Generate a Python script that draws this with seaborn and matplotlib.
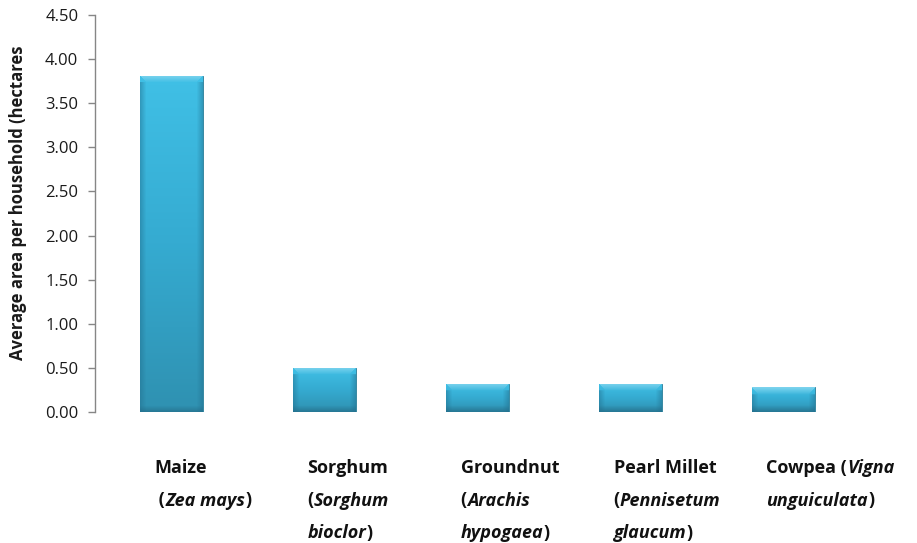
import numpy as np
import pandas as pd
import matplotlib
matplotlib.use('Agg')
import matplotlib.pyplot as plt
import seaborn as sns
from matplotlib.colors import LinearSegmentedColormap

# 数据
crops = ['Maize', 'Sorghum', 'Groundnut', 'Pearl Millet', 'Cowpea']
avg_area = [3.81, 0.50, 0.32, 0.32, 0.28]
y_ticks = [0.0, 0.5, 1.0, 1.5, 2.0, 2.5, 3.0, 3.5, 4.0, 4.5]
y_label = 'Average area per household (hectares'

# 分类标签：每行由 (文字, 是否斜体) 片段组成
label_lines = [
    [[('Maize', False)], [(' (', False), ('Zea mays', True), (')', False)]],
    [[('Sorghum', False)], [('(', False), ('Sorghum', True)], [('bioclor', True), (')', False)]],
    [[('Groundnut', False)], [('(', False), ('Arachis', True)], [('hypogaea', True), (')', False)]],
    [[('Pearl Millet', False)], [('(', False), ('Pennisetum', True)], [('glaucum', True), (')', False)]],
    [[('Cowpea (', False), ('Vigna', True)], [('unguiculata', True), (')', False)]],
]

sns.set_theme(style='white')
plt.rcParams['font.family'] = ['Open Sans', 'DejaVu Sans']

df = pd.DataFrame({'crop': crops, 'area': avg_area})

fig = plt.figure(figsize=(9.17, 5.43), dpi=100)
ax = fig.add_axes([95 / 917, 1 - 412 / 543, 765 / 917, 397 / 543])

sns.barplot(data=df, x='crop', y='area', color='#33b1d8', width=0.41,
            saturation=1, ax=ax, zorder=2)

# 渐变效果（模拟Excel的斜面样式）
body = LinearSegmentedColormap.from_list('body', ['#40c0e6', '#35abd1', '#2f91b1'])
px_per_unit = 397 / 4.5
for patch in ax.patches:
    x0, w = patch.get_x(), patch.get_width()
    h = patch.get_height()
    hpx = max(int(h * px_per_unit), 4)
    wpx = 64
    rows = np.linspace(0, 1, hpx)[:, None]
    img = body(rows * np.ones((1, wpx)))[:, :, :3]
    # 顶部高光
    top = min(7, hpx // 3)
    for r in range(top):
        f = 1 - r / max(top, 1)
        img[r, r:wpx - r, :] = img[r, r:wpx - r, :] * (1 - 0.5 * f) + np.array([0.72, 0.9, 0.96]) * 0.5 * f
    # 底部暗边
    bot = min(6, hpx // 4)
    for r in range(bot):
        f = 1 - r / max(bot, 1)
        img[hpx - 1 - r, :, :] = img[hpx - 1 - r, :, :] * (1 - 0.45 * f) + np.array([0.12, 0.36, 0.46]) * 0.45 * f
    # 左右暗边
    for c in range(6):
        f = 1 - c / 6
        for cc in (c, wpx - 1 - c):
            img[top:, cc, :] = img[top:, cc, :] * (1 - 0.45 * f) + np.array([0.13, 0.43, 0.55]) * 0.45 * f
    im = ax.imshow(img, extent=[x0, x0 + w, 0, h], aspect='auto', zorder=3,
                   interpolation='bilinear')
    im.set_clip_path(patch)
    patch.set_edgecolor('#2a7b96')
    patch.set_linewidth(0.6)
    patch.set_zorder(2)

ax.set_xlim(-0.5, 4.5)
ax.set_ylim(0, 4.5)
ax.set_yticks(y_ticks)
ax.set_yticklabels([f'{v:.2f}' for v in y_ticks], fontsize=12, color='#1a1a1a')
ax.tick_params(axis='y', direction='out', length=5, width=1, color='#868686', pad=7, left=True)
ax.set_xticks(range(len(crops)))
ax.set_xticklabels([])
ax.tick_params(axis='x', length=0)
ax.set_xlabel('')
ax.set_ylabel(y_label, fontsize=12, fontweight='bold', color='#1a1a1a')
ax.yaxis.set_label_coords(-0.089, 0.526)
for side in ['top', 'right', 'bottom']:
    ax.spines[side].set_visible(False)
ax.spines['left'].set_color('#868686')
ax.spines['left'].set_linewidth(1)
ax.grid(False)

# 分类标签：粗体 + 粗斜体混排
line_gap = 32.5
first_drop = 61
for i, lines in enumerate(label_lines):
    for j, pieces in enumerate(lines):
        prev = None
        for text, italic in pieces:
            style = 'italic' if italic else 'normal'
            if prev is None:
                prev = ax.annotate(text, xy=(i, 0), xycoords='data',
                                   xytext=(-17, -(first_drop + j * line_gap)),
                                   textcoords='offset pixels', ha='left', va='baseline',
                                   fontsize=13, fontweight='bold', fontstyle=style,
                                   color='#111111', annotation_clip=False)
            else:
                prev = ax.annotate(text, xy=(1, 0), xycoords=prev,
                                   ha='left', va='bottom',
                                   fontsize=13, fontweight='bold', fontstyle=style,
                                   color='#111111', annotation_clip=False)

fig.savefig('out.png', dpi=100, facecolor='white')
